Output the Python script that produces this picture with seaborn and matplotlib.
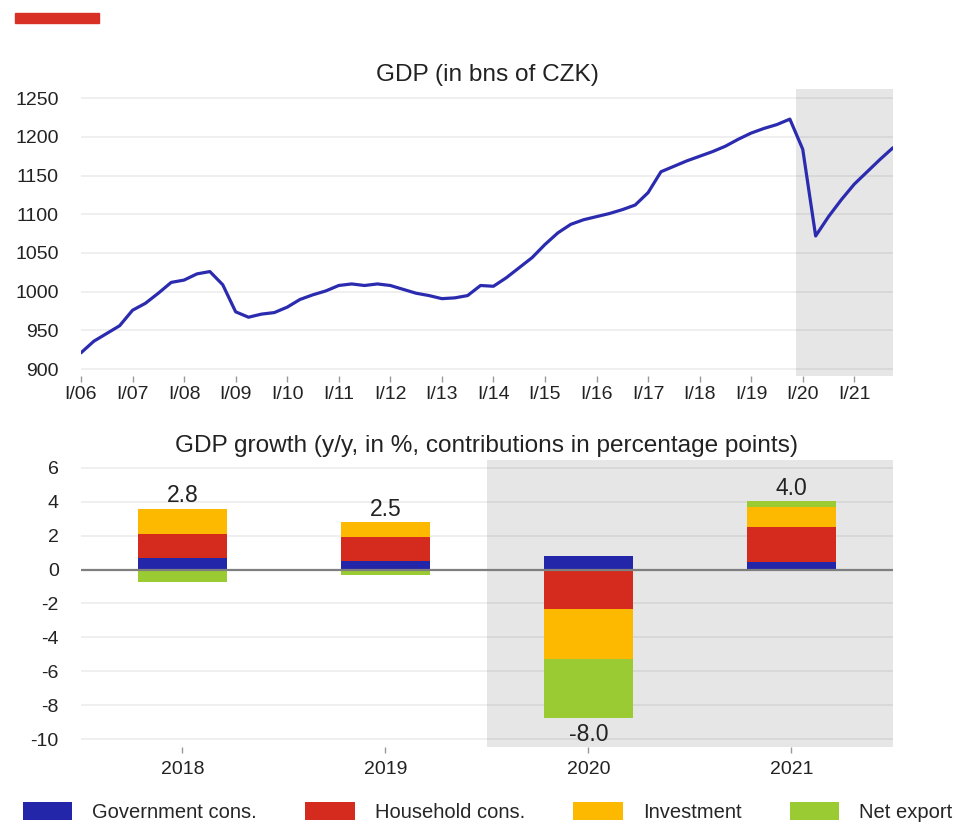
import numpy as np
import pandas as pd
import matplotlib.pyplot as plt
from matplotlib.patches import Rectangle, Patch
import seaborn as sns

# GDP, quarterly I/06 - IV/21, bns of CZK
gdp = [921, 936, 946, 956, 976, 985, 998, 1012, 1015, 1023, 1026, 1009,
       974, 967, 971, 973, 980, 990, 996, 1001, 1008, 1010, 1008, 1010,
       1008, 1003, 998, 995, 991, 992, 995, 1008, 1007, 1018, 1031, 1044,
       1061, 1076, 1087, 1093, 1097, 1101, 1106, 1112, 1128, 1155, 1162, 1169,
       1175, 1181, 1188, 1197, 1205, 1211, 1216, 1223, 1184, 1072, 1097, 1119,
       1139, 1155, 1171, 1186]
year_labels = ['I/06', 'I/07', 'I/08', 'I/09', 'I/10', 'I/11', 'I/12', 'I/13',
               'I/14', 'I/15', 'I/16', 'I/17', 'I/18', 'I/19', 'I/20', 'I/21']

# GDP growth contributions
years = ['2018', '2019', '2020', '2021']
gov = [0.7, 0.53, 0.83, 0.47]
household = [1.4, 1.42, -2.3, 2.07]
investment = [1.5, 0.83, -2.95, 1.18]
net_export = [-0.71, -0.3, -3.5, 0.3]
growth = [2.8, 2.5, -8.0, 4.0]

names = ['Government cons.', 'Household cons.', 'Investment', 'Net export']
colors = ['#2326a8', '#d52b1e', '#fdb900', '#9bcb32']

sns.set_theme(style='white')
plt.rcParams['font.family'] = ['Liberation Sans', 'DejaVu Sans']
plt.rcParams['axes.unicode_minus'] = False

fig = plt.figure(figsize=(9.57, 8.25), dpi=100)

# red mark in the corner
fig.patches.append(Rectangle((15 / 957, 1 - 23 / 825), 84 / 957, 10 / 825,
                             transform=fig.transFigure, color='#d93025'))

shade = '#e6e6e6'

# ---- top: GDP level
ax1 = fig.add_axes([0.0846, 0.5442, 0.8485, 0.348])
q = np.arange(len(gdp))
ax1.axvspan(55.5, 63, color=shade, zorder=0, lw=0)
sns.lineplot(x=q, y=gdp, ax=ax1, color='#2b2bb0', lw=2.3, zorder=3)
ax1.set_xlim(0, 63)
ax1.set_ylim(891, 1262)
ax1.set_yticks(range(900, 1251, 50))
ax1.set_xticks(range(0, 64, 4))
ax1.set_xticklabels(year_labels)
ax1.grid(axis='y', color='k', alpha=0.08, lw=1.2)
ax1.set_axisbelow(True)
ax1.set_title('GDP (in bns of CZK)', fontsize=17.6, pad=6, color='#222222')

# ---- bottom: growth contributions
ax2 = fig.add_axes([0.0846, 0.0945, 0.8485, 0.348])
ax2.axvspan(1.5, 3.5, color=shade, zorder=0, lw=0)
comps = np.array([gov, household, investment, net_export])
pos_base = np.zeros(len(years))
neg_base = np.zeros(len(years))
for vals, name, c in zip(comps, names, colors):
    bottoms = np.where(vals >= 0, pos_base, neg_base)
    sns.barplot(x=years, y=vals, bottom=bottoms, ax=ax2, color=c, saturation=1,
                width=0.44, errorbar=None, linewidth=0, zorder=2)
    pos_base = pos_base + np.clip(vals, 0, None)
    neg_base = neg_base + np.clip(vals, None, 0)

for i, g in enumerate(growth):
    if g >= 0:
        ax2.text(i, pos_base[i] + 0.75, f'{g:.1f}', ha='center', va='center',
                 fontsize=16.5, color='#222222', zorder=4)
    else:
        ax2.text(i, neg_base[i] - 1.0, f'{g:.1f}', ha='center', va='center',
                 fontsize=16.5, color='#222222', zorder=4)

ax2.axhline(0, color='#7f7f7f', lw=1.6, zorder=3)
ax2.set_xlim(-0.5, 3.5)
ax2.set_ylim(-10.47, 6.47)
ax2.set_yticks(range(-10, 7, 2))
ax2.grid(axis='y', color='k', alpha=0.08, lw=1.2)
ax2.set_axisbelow(True)
ax2.set_xlabel('')
ax2.set_title('GDP growth (y/y, in %, contributions in percentage points)',
              fontsize=17.6, pad=6, color='#222222')

for ax, xpad in ((ax1, 3), (ax2, 6)):
    sns.despine(ax=ax, left=True, bottom=True)
    ax.tick_params(axis='y', length=0, pad=16, labelsize=14, labelcolor='#222222')
    ax.tick_params(axis='x', length=4, width=1, color='#999999', pad=xpad,
                   labelsize=14, labelcolor='#222222', bottom=True)

handles = [Patch(facecolor=c, edgecolor='none', label=n) for n, c in zip(names, colors)]
fig.legend(handles=handles, loc='center', bbox_to_anchor=(487.5 / 957, 1 - 812 / 825),
           ncol=4, frameon=False, fontsize=14.5, handlelength=2.45,
           handleheight=0.95, handletextpad=1.0, columnspacing=2.4)

fig.savefig('out.png', dpi=100)
